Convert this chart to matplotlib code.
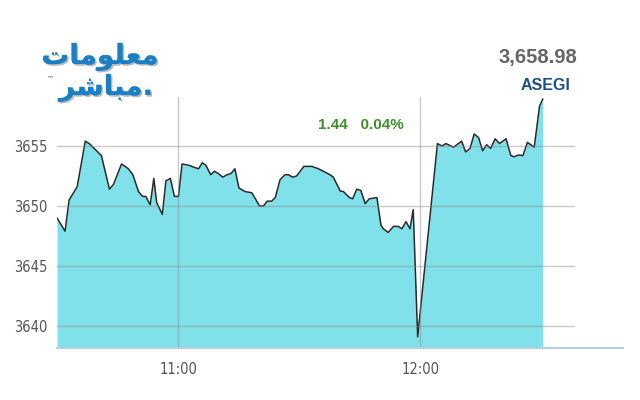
import matplotlib
matplotlib.use('Agg')
import matplotlib.pyplot as plt
import matplotlib.patheffects as pe
from matplotlib.lines import Line2D

# minutes after 10:30 and index level
minutes = [0, 2, 3, 5, 7, 8, 11, 13, 14, 16,
           17.7, 18.8, 20.2, 21.2, 22, 23.1, 24, 24.7, 26.1, 27,
           28.1, 29.1, 30.1, 31, 32.6, 34.2, 35.1, 36, 36.9, 38.1,
           39, 40, 41.1, 42.1, 43.1, 44.1, 45.1, 46.6, 48.3, 50.2,
           51.2, 52.1, 53.2, 54.1, 55.3, 56.5, 57.4, 58.4, 59.4, 60.3,
           61.2, 63.2, 64.8, 66, 67.7, 68.5, 70.2, 71, 72.5, 73.3,
           74.3, 75.3, 76.4, 77.4, 79.3, 80.3, 80.9, 82.1, 83.4, 84.6,
           85.5, 86.5, 87.5, 88.3, 89.4, 94.3, 95.4, 96.4, 98.3, 100.3,
           101.3, 102.4, 103.4, 104.5, 105.5, 106.5, 107.5, 108.6, 109.7, 111.3,
           112.5, 113.3, 114.4, 115.5, 116.6, 118.3, 119.6, 120.4]
values = [3649.0, 3647.9, 3650.5, 3651.6, 3655.4, 3655.2, 3654.2, 3651.4, 3651.8, 3653.5,
          3653.1, 3652.6, 3651.2, 3650.8, 3650.8, 3650.1, 3652.3, 3650.3, 3649.3, 3652.1,
          3652.3, 3650.8, 3650.8, 3653.5, 3653.4, 3653.2, 3653.1, 3653.6, 3653.4, 3652.6,
          3652.9, 3652.7, 3652.4, 3652.6, 3652.7, 3653.1, 3651.5, 3651.2, 3651.1, 3650.0,
          3650.0, 3650.4, 3650.4, 3650.7, 3652.2, 3652.6, 3652.6, 3652.4, 3652.5, 3652.9,
          3653.3, 3653.3, 3653.1, 3652.9, 3652.6, 3652.4, 3651.25, 3651.2, 3650.7, 3650.6,
          3651.4, 3651.3, 3650.2, 3650.6, 3650.7, 3648.4, 3648.1, 3647.8, 3648.3, 3648.3,
          3648.1, 3648.7, 3648.1, 3649.7, 3639.1, 3655.2, 3655.0, 3655.2, 3654.9, 3655.4,
          3654.5, 3654.8, 3656.0, 3655.7, 3654.6, 3655.1, 3654.8, 3655.6, 3655.2, 3655.6,
          3654.2, 3654.1, 3654.25, 3654.2, 3655.3, 3654.9, 3658.3, 3658.9]

yticks = [3640, 3645, 3650, 3655]
xticks = [30, 90]
xticklabels = ['11:00', '12:00']
last_value = '3,658.98'
change = '1.44'
change_pct = '0.04%'
index_name = 'ASEGI'
ymin, ymax = 3638.17, 3659.08

fig = plt.figure(figsize=(6.4, 4), dpi=100)
ax = fig.add_axes([57 / 640, 0.13, 518 / 640, 0.6275])

ax.fill_between(minutes, values, ymin, color='#80e1ea', lw=0)
ax.plot(minutes, values, color='#2a2a2a', lw=1.1)

ax.set_xlim(0, 128.4)
ax.set_ylim(ymin, ymax)
ax.set_yticks(yticks)
ax.set_xticks(xticks)
ax.set_xticklabels(xticklabels)
ax.grid(True, color='#8a8a8a', alpha=0.45, lw=1)
ax.set_axisbelow(False)
for s in ax.spines.values():
    s.set_visible(False)
ax.tick_params(length=0, colors='#555555', labelsize=10.5, pad=7)
for lab in ax.get_xticklabels() + ax.get_yticklabels():
    lab.set_family(['Liberation Sans Narrow', 'DejaVu Sans'])
    lab.set_stretch('condensed')
ax.tick_params(axis='x', pad=10)

# bottom axis line, runs past the plot area
fig.add_artist(Line2D([57 / 640, 623 / 640], [0.13, 0.13], color='#b8cde6', lw=1.5))

fig.text(318 / 640, 1 - 125 / 400, change + '   ' + change_pct, color='#3f8f2a',
         fontsize=11, fontweight='bold', va='center', family='Liberation Sans')
fig.text(538 / 640, 1 - 58 / 400, last_value, color='#666666', fontsize=14.5,
         fontweight='bold', ha='center', va='center', family='Liberation Sans')
fig.text(546 / 640, 1 - 86 / 400, index_name, color='#1b4f8c', fontsize=11.5,
         fontweight='bold', ha='center', va='center', family='Liberation Sans')

# logo
shadow = [pe.withSimplePatchShadow(offset=(1.2, -1.2), shadow_rgbFace='#999999', alpha=0.7), pe.Normal()]
logo1 = '\uFE95\uFE8E\uFEE3\uFEEE\uFEE0\uFECC\uFEE3'
logo2 = '\uFEAE\uFEB7\uFE8E\uFE92\uFEE3.'
fig.text(100 / 640, 1 - 57 / 400, logo1, color='#1a7fc6', fontsize=20, fontweight='bold',
         ha='center', va='center', family='DejaVu Sans', path_effects=shadow)
fig.text(59 / 640, 1 - 88 / 400, logo2, color='#1a7fc6', fontsize=20, fontweight='bold',
         ha='left', va='center', family='DejaVu Sans', path_effects=shadow)
fig.text(50 / 640, 1 - 78 / 400, '\u2122', color='#555555', fontsize=5, ha='center', va='center')

fig.savefig('out.png', dpi=100)
